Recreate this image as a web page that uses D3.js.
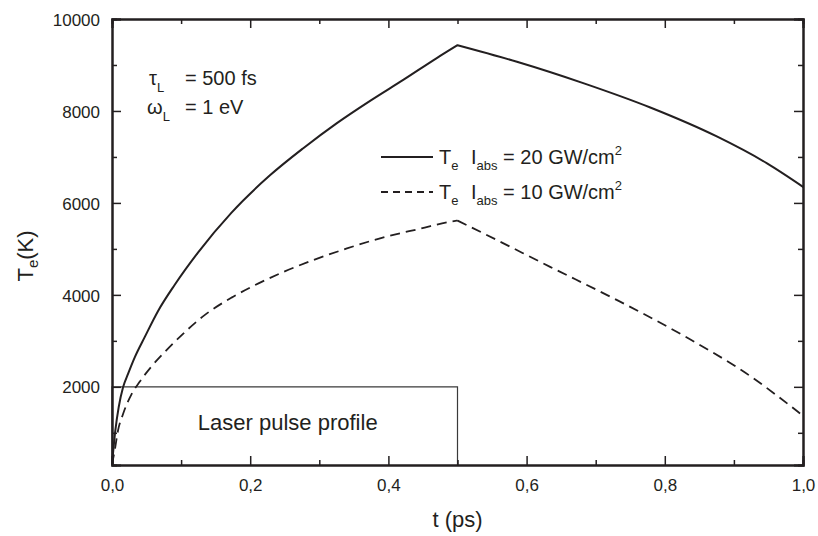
<!DOCTYPE html>
<html>
<head>
<meta charset="utf-8">
<script src="https://cdn.jsdelivr.net/npm/d3@7"></script>
<style>
  body { margin: 0; background: #fff; }
  svg { display: block; font-family: "Liberation Sans", Arial, sans-serif; }
  .tick-label { font-size: 17px; fill: #231f20; }
  .title { font-size: 22px; fill: #231f20; }
  .note { font-size: 20px; fill: #231f20; }
</style>
</head>
<body>
<svg id="chart" width="818" height="536"></svg>
<script>
// t (ps) and Te (K)
const solidRiseT = [0, 0.0048, 0.0097, 0.016, 0.0232, 0.0329, 0.0473, 0.0667, 0.0908, 0.1244, 0.173, 0.2286, 0.2768, 0.325, 0.3735, 0.422, 0.47, 0.5];
const solidRiseTe = [320, 1050, 1560, 1990, 2280, 2640, 3080, 3650, 4220, 4920, 5790, 6600, 7190, 7730, 8220, 8680, 9150, 9430];
const solidDecayT = [0.5, 0.586, 0.683, 0.779, 0.876, 0.948, 1.0];
const solidDecayTe = [9430, 9070, 8600, 8075, 7440, 6860, 6350];

const dashRiseT = [0, 0.0039, 0.0087, 0.016, 0.028, 0.04, 0.057, 0.081, 0.1005, 0.134, 0.173, 0.212, 0.25, 0.34, 0.388, 0.446, 0.489, 0.5];
const dashRiseTe = [320, 615, 1050, 1410, 1830, 2110, 2440, 2830, 3120, 3560, 3940, 4250, 4510, 5010, 5230, 5440, 5590, 5615];
const dashDecayT = [0.5, 0.538, 0.634, 0.731, 0.8275, 0.924, 0.989, 1.0];
const dashDecayTe = [5615, 5335, 4610, 3885, 3110, 2230, 1500, 1370];

// laser pulse box (t, height)
const pulseT = [0, 0, 0.5, 0.5];
const pulseTe = [300, 2000, 2000, 300];

const xMajor = [0, 0.2, 0.4, 0.6, 0.8, 1.0];
const xMinor = [0.1, 0.3, 0.5, 0.7, 0.9];
const yMajor = [2000, 4000, 6000, 8000, 10000];
const yMinor = [1000, 3000, 5000, 7000, 9000];

const plotLeft = 112, plotRight = 803, plotTop = 19, plotBottom = 465;
const ink = "#231f20";

const svg = d3.select("#chart");

const x = d3.scaleLinear().domain([0, 1]).range([plotLeft, plotRight]);
const y = d3.scaleLinear().domain([300, 10000]).range([plotBottom, plotTop]);

const zip = (ts, vs) => ts.map((t, i) => [t, vs[i]]);
const smoothLine = d3.line()
  .x((d) => x(d[0]))
  .y((d) => y(d[1]))
  .curve(d3.curveMonotoneX);
const straightLine = d3.line()
  .x((d) => x(d[0]))
  .y((d) => y(d[1]));

// pulse profile
svg.append("path")
  .attr("d", straightLine(zip(pulseT, pulseTe)))
  .attr("fill", "none")
  .attr("stroke", "#3a3a3a")
  .attr("stroke-width", 1.2);

svg.append("text")
  .attr("class", "note")
  .attr("x", x(0.25) + 3)
  .attr("y", 430)
  .attr("text-anchor", "middle")
  .style("font-size", "22px")
  .text("Laser pulse profile");

// curves: rise and decay are smoothed separately so the peak stays sharp
function drawCurve(riseT, riseTe, decayT, decayTe, width, dash) {
  svg.append("path")
    .attr("d", smoothLine(zip(riseT, riseTe)) + smoothLine(zip(decayT, decayTe)))
    .attr("fill", "none")
    .attr("stroke", ink)
    .attr("stroke-width", width)
    .attr("stroke-linecap", dash ? "butt" : "round")
    .attr("stroke-dasharray", dash);
}
drawCurve(solidRiseT, solidRiseTe, solidDecayT, solidDecayTe, 2, null);
drawCurve(dashRiseT, dashRiseTe, dashDecayT, dashDecayTe, 1.8, "10,6");

// axes, all ticks pointing inward
function drawAxis(axis, transform, labelPos) {
  const g = svg.append("g").attr("transform", transform).call(axis);
  g.attr("font-size", null).attr("font-family", null);
  g.select(".domain").attr("stroke", ink).attr("stroke-width", 2);
  g.selectAll(".tick line").attr("stroke", ink).attr("stroke-width", 1.5);
  const labels = g.selectAll(".tick text");
  if (!labelPos) {
    labels.remove();
  } else {
    labels.attr("class", "tick-label").attr("fill", null);
    labelPos(labels);
  }
}

const commaFormat = (d) => d3.format(".1f")(d).replace(".", ",");

drawAxis(d3.axisBottom(x).tickValues(xMajor).tickSize(-9).tickFormat(commaFormat),
  `translate(0,${plotBottom})`,
  (labels) => labels.attr("y", 26).attr("dy", null));
drawAxis(d3.axisBottom(x).tickValues(xMinor).tickSize(-5), `translate(0,${plotBottom})`);
drawAxis(d3.axisTop(x).tickValues(xMajor).tickSize(-9), `translate(0,${plotTop})`);
drawAxis(d3.axisTop(x).tickValues(xMinor).tickSize(-5), `translate(0,${plotTop})`);

drawAxis(d3.axisLeft(y).tickValues(yMajor).tickSize(-9).tickFormat(d3.format("d")),
  `translate(${plotLeft},0)`,
  (labels) => labels.attr("x", -12).attr("dy", "0.36em"));
drawAxis(d3.axisLeft(y).tickValues(yMinor).tickSize(-5), `translate(${plotLeft},0)`);
drawAxis(d3.axisRight(y).tickValues(yMajor).tickSize(-9), `translate(${plotRight},0)`);
drawAxis(d3.axisRight(y).tickValues(yMinor).tickSize(-5), `translate(${plotRight},0)`);

// axis titles
svg.append("text")
  .attr("class", "title")
  .attr("x", x(0.5))
  .attr("y", 527)
  .attr("text-anchor", "middle")
  .text("t (ps)");

const yTitle = svg.append("text")
  .attr("class", "title")
  .attr("transform", "translate(33,256) rotate(-90)")
  .attr("text-anchor", "middle");
yTitle.append("tspan").text("T");
yTitle.append("tspan").attr("dy", 5).style("font-size", "15px").text("e");
yTitle.append("tspan").attr("dy", -5).text("(K)");

// parameters
function subText(xPos, yPos, main, sub, rest) {
  const t = svg.append("text").attr("class", "note").attr("x", xPos).attr("y", yPos);
  t.append("tspan").text(main);
  t.append("tspan").attr("dy", 7).style("font-size", "13px").text(sub);
  t.append("tspan").attr("x", 185).attr("dy", -7).text(rest);
}
subText(149, 85, "\u03c4", "L", "= 500 fs");
subText(147, 114, "\u03c9", "L", "= 1 eV");

// legend
const legendLabels = ["20", "10"];
const legendDashes = [null, "7,5"];
const legendY = [164, 199];
legendLabels.forEach((label, i) => {
  svg.append("line")
    .attr("x1", 381).attr("x2", 433)
    .attr("y1", legendY[i] - 7).attr("y2", legendY[i] - 7)
    .attr("stroke", ink)
    .attr("stroke-width", 1.8)
    .attr("stroke-dasharray", legendDashes[i]);
  const t = svg.append("text").attr("class", "note").attr("x", 439).attr("y", legendY[i]);
  t.append("tspan").text("T");
  t.append("tspan").attr("dy", 6).style("font-size", "13px").text("e");
  t.append("tspan").attr("x", 471).attr("dy", -6).text("I");
  t.append("tspan").attr("dy", 6).style("font-size", "13px").text("abs");
  t.append("tspan").attr("dy", -6).text(` = ${label} GW/cm`);
  t.append("tspan").attr("dy", -9).style("font-size", "13px").text("2");
});
</script>
</body>
</html>
